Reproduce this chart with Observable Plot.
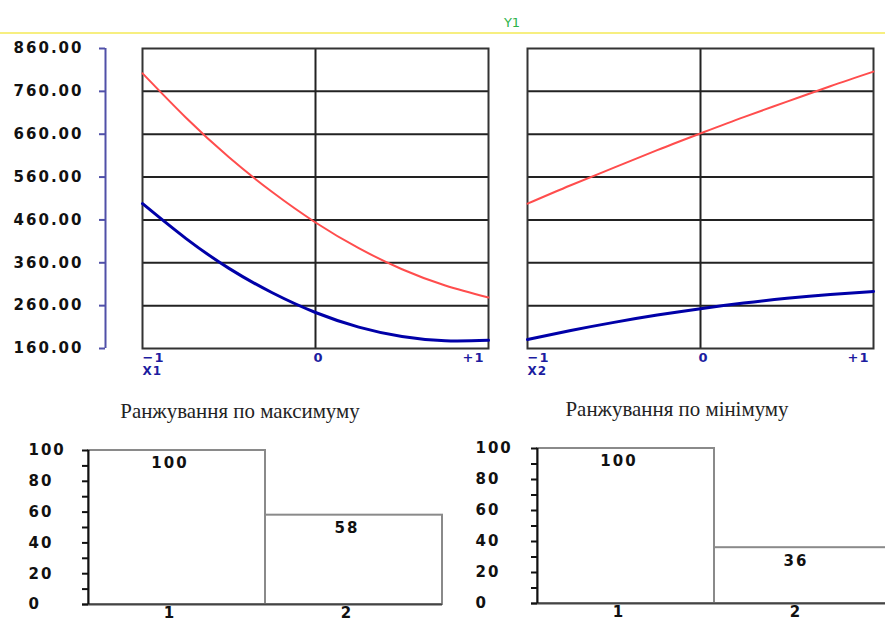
<!DOCTYPE html>
<html><head><meta charset="utf-8">
<script src="https://cdn.jsdelivr.net/npm/d3@7"></script>
<script src="https://cdn.jsdelivr.net/npm/@observablehq/plot@0.6"></script>
<style>
html,body{margin:0;padding:0;background:#fff;overflow:hidden}
#root{position:relative;width:885px;height:621px;overflow:hidden;background:#fff}
.ttl{position:absolute;font-family:"Liberation Serif",serif;font-size:22px;color:#222;white-space:nowrap;transform:translateX(-50%) scaleX(0.95)}
#yline{position:absolute;left:0;top:32px;width:885px;height:2px;background:#f7ef80}
#yname{position:absolute;left:512px;top:15px;transform:translateX(-50%);font-family:"DejaVu Sans";font-size:13px;color:#2db34a}
</style></head><body><div id="root"><div id="yline"></div><div id="yname"></div></div>
<script>
// ---- data ----
const responseName = "Y1";
const factorNames = ["X1", "X2"];
const xLevels = [-1, -0.75, -0.5, -0.25, 0, 0.25, 0.5, 0.75, 1];
const x1MaxY = [802, 699, 606, 525, 454, 394, 345, 307, 279];
const x1MinY = [498, 417, 347, 290, 244, 210, 188, 178, 179];
const x2MaxY = [498, 541, 582, 623, 662, 700, 736, 772, 806];
const x2MinY = [181, 202, 221, 238, 253, 266, 277, 286, 293];
const yTicks = [160, 260, 360, 460, 560, 660, 760, 860];
const xTicks = [-1, 0, 1];
const xTickLabels = ["\u22121", "0", "+1"];
const rankTitles = ["Ранжування по максимуму", "Ранжування по мінімуму"];
const rankCats = ["1", "2"];
const rankMax = [100, 58];
const rankMin = [100, 36];
const rankTicks = [0, 10, 20, 30, 40, 50, 60, 70, 80, 90, 100];

const root = document.getElementById("root");
document.getElementById("yname").textContent = responseName;

function place(svg, left, top) {
  svg.style.position = "absolute";
  svg.style.left = left + "px";
  svg.style.top = top + "px";
  svg.style.maxWidth = "none";
  svg.style.background = "transparent";
  root.appendChild(svg);
}

// ---- shared Y axis of the response panels ----
const axisBlue = "#5050a8";
place(Plot.plot({
  width: 110, height: 360, marginLeft: 105, marginRight: 5, marginTop: 48, marginBottom: 12,
  x: {domain: [0, 1], axis: null},
  y: {domain: [160, 860], axis: null},
  style: {fontFamily: "DejaVu Sans", fontSize: "15px", fontWeight: "bold", letterSpacing: "2px", background: "transparent", overflow: "visible"},
  marks: [
    Plot.ruleX([0], {y1: 160, y2: 860, stroke: axisBlue, strokeWidth: 2}),
    Plot.axisY(yTicks, {anchor: "left", label: null, tickSize: 6, tickPadding: 16, stroke: axisBlue, strokeWidth: 2, fill: "#111", tickFormat: d3.format(".2f")})
  ]
}), 0, 0);

// ---- response panels ----
function panel(maxY, minY, factor) {
  const maxData = xLevels.map((x, i) => ({x, y: maxY[i]}));
  const minData = xLevels.map((x, i) => ({x, y: minY[i]}));
  const lab = xTicks.map((x, i) => ({x, t: xTickLabels[i]}));
  const tickFont = {fill: "#1c1ca0", fontWeight: "bold", fontSize: 13, frameAnchor: "bottom", lineAnchor: "top", dy: 4};
  return Plot.plot({
    width: 500, height: 385, marginLeft: 142, marginRight: 12, marginTop: 48, marginBottom: 37,
    x: {domain: [-1, 1], axis: null},
    y: {domain: [160, 860], axis: null},
    style: {fontFamily: "DejaVu Sans", background: "transparent", overflow: "visible", letterSpacing: "1px"},
    marks: [
      Plot.ruleY(yTicks.slice(1, -1), {stroke: "#222", strokeWidth: 2}),
      Plot.ruleX([0], {stroke: "#222", strokeWidth: 2}),
      Plot.frame({stroke: "#333", strokeWidth: 2}),
      Plot.line(maxData, {x: "x", y: "y", stroke: "#ff4d4d", strokeWidth: 2, curve: "natural"}),
      Plot.line(minData, {x: "x", y: "y", stroke: "#0000a8", strokeWidth: 3, curve: "natural"}),
      Plot.text(lab.filter(d => d.x < 0), {x: "x", text: "t", textAnchor: "start", ...tickFont}),
      Plot.text(lab.filter(d => d.x === 0), {x: "x", text: "t", textAnchor: "middle", ...tickFont, dx: 3}),
      Plot.text(lab.filter(d => d.x > 0), {x: "x", text: "t", textAnchor: "end", ...tickFont, dx: -4}),
      Plot.text([factor], {x: () => -1, text: d => d, textAnchor: "start", fill: "#1c1ca0", fontWeight: "bold", fontSize: 12, frameAnchor: "bottom", lineAnchor: "top", dy: 18})
    ]
  });
}
place(panel(x1MaxY, x1MinY, factorNames[0]), 0, 0);
place(panel(x2MaxY, x2MinY, factorNames[1]), 385, 0);

// ---- ranking bar charts ----
function bars(vals, ml, mt, mb, tp) {
  const data = rankCats.map((c, i) => ({rank: +c, label: c, v: vals[i]}));
  return Plot.plot({
    width: 450, height: 231, marginLeft: ml, marginRight: 450 - ml - 354, marginTop: mt, marginBottom: mb,
    x: {domain: [0.5, 2.5], axis: null},
    y: {domain: [0, 100], axis: null},
    style: {fontFamily: "DejaVu Sans", fontSize: "15px", fontWeight: "bold", letterSpacing: "2px", background: "transparent", overflow: "visible", color: "#111"},
    marks: [
      Plot.rect(data, {x1: d => d.rank - 0.5, x2: d => d.rank + 0.5, y1: d => 0, y2: "v", fill: "white", stroke: "#8a8a8a", strokeWidth: 2}),
      Plot.ruleY([0], {stroke: "#444", strokeWidth: 2, insetLeft: -6}),
      Plot.ruleX([0.5], {y1: 0, y2: 100, stroke: "#111", strokeWidth: 2}),
      Plot.axisY(rankTicks, {anchor: "left", label: null, tickSize: 6, tickPadding: tp, textAnchor: "start", strokeWidth: 2, tickFormat: d => d % 20 === 0 ? String(d) : ""}),
      Plot.text(data, {x: "rank", y: "v", text: d => String(d.v), dy: 13, dx: -7, fill: "#111"}),
      Plot.text(data, {x: "rank", text: "label", frameAnchor: "bottom", dy: 13, dx: -7, fill: "#111"})
    ]
  });
}
place(bars(rankMax, 88, 60, 17, 54), 0, 390);
place(bars(rankMin, 87, 58, 18, 56), 450, 390);

[[rankTitles[0], 240, 398], [rankTitles[1], 677, 396]].forEach(([t, x, y]) => {
  const d = document.createElement("div");
  d.className = "ttl";
  d.style.left = x + "px";
  d.style.top = y + "px";
  d.textContent = t;
  root.appendChild(d);
});
</script></body></html>
